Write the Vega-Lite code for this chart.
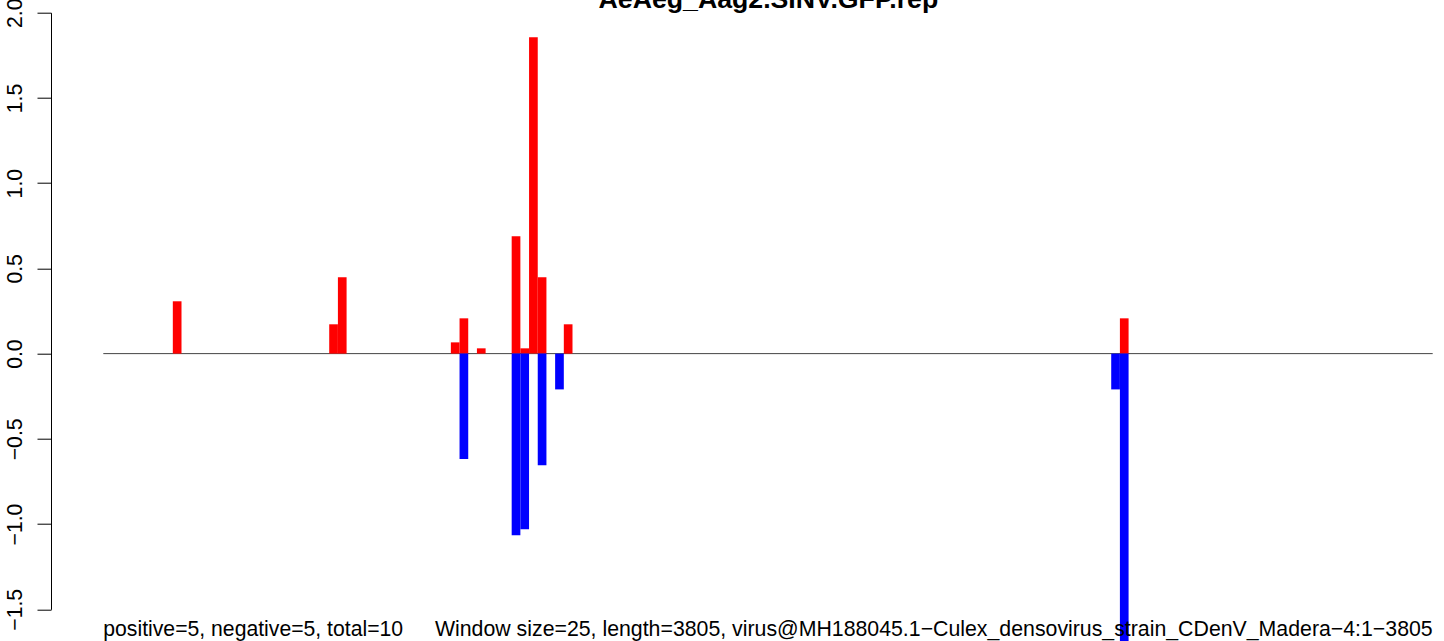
{
  "$schema": "https://vega.github.io/schema/vega-lite/v6.json",
  "autosize": {"type": "none"},
  "padding": {"left": 51, "top": 12.7, "right": 11.3, "bottom": 31.7},
  "width": 1381.7,
  "height": 596.6,
  "background": "white",
  "title": {
    "text": "AeAeg_Aag2.SINV.GFP.rep",
    "font": "Liberation Sans",
    "fontSize": 26.7,
    "fontWeight": "bold",
    "color": "black",
    "anchor": "middle",
    "frame": "group",
    "baseline": "alphabetic",
    "offset": 0,
    "dy": 37.2,
    "dx": 26.5
  },
  "config": {
    "view": {"stroke": null},
    "axis": {"grid": false}
  },
  "encoding": {
    "x": {
      "field": "start",
      "type": "quantitative",
      "scale": {"domain": [-149.7, 3805], "nice": false, "zero": false},
      "axis": null
    },
    "y": {
      "field": "value",
      "type": "quantitative",
      "scale": {"domain": [-1.5, 2.0], "nice": false, "zero": false},
      "axis": {
        "title": null,
        "values": [-1.5, -1.0, -0.5, 0.0, 0.5, 1.0, 1.5, 2.0],
        "format": ".1f",
        "domainColor": "black",
        "domainWidth": 1,
        "tickColor": "black",
        "tickWidth": 1,
        "tickSize": 14,
        "labelAngle": 270,
        "labelAlign": "center",
        "labelBaseline": "alphabetic",
        "labelPadding": 16,
        "labelFont": "Liberation Sans",
        "labelFontSize": 21.2,
        "labelColor": "black",
        "labelOverlap": false,
        "labelFlush": false
      }
    }
  },
  "layer": [
    {
      "data": {"values": [{"start": 0, "end": 3805, "value": 0}]},
      "mark": {"type": "rule", "color": "#444444", "strokeWidth": 1},
      "encoding": {
        "x2": {"field": "end"}
      }
    },
    {
      "data": {
        "values": [
          {"start": 198.954, "end": 223.824, "value": 0.307, "strand": "positive"},
          {"start": 646.601, "end": 671.471, "value": 0.172, "strand": "positive"},
          {"start": 671.471, "end": 696.340, "value": 0.448, "strand": "positive"},
          {"start": 994.771, "end": 1019.641, "value": 0.066, "strand": "positive"},
          {"start": 1019.641, "end": 1044.510, "value": 0.207, "strand": "positive"},
          {"start": 1069.379, "end": 1094.248, "value": 0.031, "strand": "positive"},
          {"start": 1168.856, "end": 1193.725, "value": 0.688, "strand": "positive"},
          {"start": 1193.725, "end": 1218.595, "value": 0.031, "strand": "positive"},
          {"start": 1218.595, "end": 1243.464, "value": 1.856, "strand": "positive"},
          {"start": 1243.464, "end": 1268.333, "value": 0.448, "strand": "positive"},
          {"start": 1318.072, "end": 1342.941, "value": 0.172, "strand": "positive"},
          {"start": 2909.706, "end": 2934.575, "value": 0.207, "strand": "positive"},
          {"start": 1019.641, "end": 1044.510, "value": -0.618, "strand": "negative"},
          {"start": 1168.856, "end": 1193.725, "value": -1.066, "strand": "negative"},
          {"start": 1193.725, "end": 1218.595, "value": -1.031, "strand": "negative"},
          {"start": 1243.464, "end": 1268.333, "value": -0.655, "strand": "negative"},
          {"start": 1293.203, "end": 1318.072, "value": -0.21, "strand": "negative"},
          {"start": 2884.837, "end": 2909.706, "value": -0.21, "strand": "negative"},
          {"start": 2909.706, "end": 2934.575, "value": -1.8, "strand": "negative"}
        ]
      },
      "mark": {"type": "rect"},
      "encoding": {
        "x2": {"field": "end"},
        "y2": {"datum": 0},
        "color": {
          "field": "strand",
          "type": "nominal",
          "scale": {"domain": ["positive", "negative"], "range": ["#FF0000", "#0000FF"]},
          "legend": null
        }
      }
    },
    {
      "data": {"values": [{"label": "positive=5, negative=5, total=10", "start": 0, "value": -1.657}]},
      "mark": {"type": "text", "align": "left", "baseline": "alphabetic", "font": "Liberation Sans", "fontSize": 21.2, "color": "black"},
      "encoding": {
        "text": {"field": "label", "type": "nominal"}
      }
    },
    {
      "data": {"values": [{"label": "Window size=25, length=3805, virus@MH188045.1−Culex_densovirus_strain_CDenV_Madera−4:1−3805", "start": 3805, "value": -1.657}]},
      "mark": {"type": "text", "align": "right", "baseline": "alphabetic", "font": "Liberation Sans", "fontSize": 21.3, "color": "black"},
      "encoding": {
        "text": {"field": "label", "type": "nominal"}
      }
    }
  ]
}
